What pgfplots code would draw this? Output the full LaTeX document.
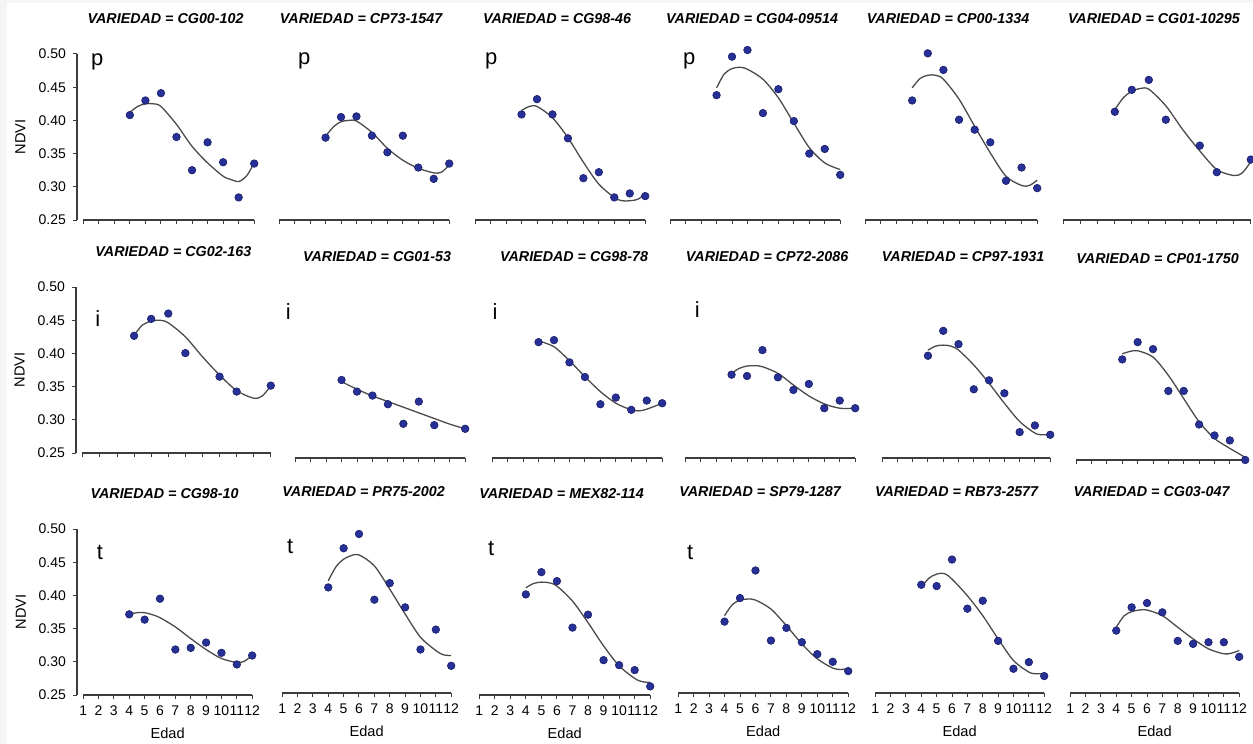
\documentclass[border=0pt]{standalone}
\usepackage{fontspec}
\setmainfont{Liberation Sans}
\usepackage{pgfplots}
\pgfplotsset{compat=1.18}

\definecolor{dotfill}{RGB}{38,48,150}
\definecolor{dotedge}{RGB}{25,30,105}
\definecolor{fitline}{RGB}{75,75,75}
\definecolor{axisgray}{RGB}{60,60,60}
\definecolor{bgedge}{RGB}{243,246,242}

\tikzset{lab/.style={font=\fontsize{11}{13}\selectfont, anchor=center}}

\pgfplotsset{
  panel/.style={
    scale only axis, height=83pt, anchor=south west,
    xmin=0.6, xmax=12, ymin=0.25, ymax=0.5, clip=false,
    axis x line=bottom, axis y line=left,
    axis line style={-, draw=axisgray, line width=0.6pt},
    x axis line style={shorten <=3pt},
    xtick={1,...,12}, ytick={0.25,0.3,0.35,0.4,0.45,0.5},
    tick align=outside, major tick length=2pt,
    tick style={draw=axisgray, line width=0.5pt},
    tick label style={font=\fontsize{7}{8}\selectfont},
    /pgf/number format/assume math mode=true,
    yticklabel style={/pgf/number format/.cd, fixed, fixed zerofill, precision=2},
    title style={font=\fontsize{7.15}{8}\selectfont\bfseries\itshape,
      at={(0.5,1)}, anchor=center, yshift=11.5pt},
  },
  firstcol/.style={ylabel={NDVI},
    every axis y label/.style={at={(axis description cs:#1,0.5)}, rotate=90,
      anchor=center, font=\fontsize{7.3}{8}\selectfont}},
  othercol/.style={axis y line=none, ytick=\empty},
  uprow/.style={xticklabels={}},
  lastrow/.style={xlabel={Edad},
    every axis x label/.style={at={(axis cs:6.5,0.25)}, anchor=center,
      yshift=-19pt, font=\fontsize{7.3}{8}\selectfont}},
  fit/.style={smooth, color=fitline, line width=0.65pt, no markers},
  dots/.style={only marks, mark=*, mark size=1.9pt,
    mark options={fill=dotfill, draw=dotedge, line width=0.3pt}},
}

\begin{document}
\begin{tikzpicture}
\path[use as bounding box] (0,0) rectangle (626.5pt,-372pt);
\fill[white] (0,0) rectangle (626.5pt,-372pt);
\fill[bgedge] (0,0) rectangle (3.5pt,-372pt);
\fill[bgedge] (0,0) rectangle (626.5pt,-1.5pt);

% ---------------- row 1 ----------------
\begin{axis}[panel, firstcol=-0.32, uprow, at={(38.5pt,-110pt)}, width=88.6pt,
  title={VARIEDAD = CG00-102}]
\addplot[fit] coordinates {(4,0.412) (4.5,0.421) (5,0.425) (5.5,0.425) (6,0.421) (7,0.394) (8,0.361) (9,0.336) (10,0.316) (10.5,0.311) (11,0.308) (11.5,0.316) (12,0.336)};
\addplot[dots] coordinates {(4,0.408) (5,0.430) (6,0.441) (7,0.375) (8,0.325) (9,0.367) (10,0.337) (11,0.284) (12,0.335)};
\node[lab] at (axis cs:1.9,0.488) {p};
\end{axis}

\begin{axis}[panel, othercol, uprow, at={(136.5pt,-110pt)}, width=88.1pt,
  title={VARIEDAD = CP73-1547}]
\addplot[fit] coordinates {(4,0.376) (4.5,0.390) (5,0.398) (5.5,0.400) (6,0.399) (7,0.382) (8,0.358) (9,0.340) (10,0.328) (11,0.321) (11.5,0.322) (12,0.333)};
\addplot[dots] coordinates {(4,0.374) (5,0.405) (6,0.406) (7,0.377) (8,0.352) (9,0.377) (10,0.329) (11,0.312) (12,0.335)};
\node[lab] at (axis cs:2.62,0.489) {p};
\end{axis}

\begin{axis}[panel, othercol, uprow, at={(234.5pt,-110pt)}, width=88.1pt,
  title={VARIEDAD = CG98-46}]
\addplot[fit] coordinates {(4,0.415) (4.5,0.421) (5,0.421) (6,0.404) (7,0.374) (8,0.337) (9,0.304) (10,0.284) (10.5,0.279) (11,0.279) (11.5,0.281) (12,0.289)};
\addplot[dots] coordinates {(4,0.409) (5,0.432) (6,0.409) (7,0.373) (8,0.313) (9,0.322) (10,0.284) (11,0.290) (12,0.286)};
\node[lab] at (axis cs:2.04,0.489) {p};
\end{axis}

\begin{axis}[panel, othercol, uprow, at={(332pt,-110pt)}, width=88.1pt,
  title={VARIEDAD = CG04-09514}]
\addplot[fit] coordinates {(4,0.449) (4.5,0.470) (5,0.478) (5.5,0.480) (6,0.477) (7,0.462) (8,0.434) (9,0.396) (10,0.359) (11,0.336) (12,0.326)};
\addplot[dots] coordinates {(4,0.438) (5,0.496) (6,0.506) (7,0.411) (8,0.447) (9,0.399) (10,0.350) (11,0.357) (12,0.318)};
\node[lab] at (axis cs:2.23,0.489) {p};
\end{axis}

\begin{axis}[panel, othercol, uprow, at={(429.5pt,-110pt)}, width=89.1pt,
  title={VARIEDAD = CP00-1334}]
\addplot[fit] coordinates {(4,0.449) (4.5,0.463) (5,0.468) (5.5,0.468) (6,0.462) (7,0.432) (8,0.391) (9,0.351) (10,0.316) (11,0.302) (11.5,0.302) (12,0.310)};
\addplot[dots] coordinates {(4,0.430) (5,0.501) (6,0.476) (7,0.401) (8,0.386) (9,0.367) (10,0.309) (11,0.329) (12,0.298)};
\end{axis}

\begin{axis}[panel, othercol, uprow, at={(528.5pt,-110pt)}, width=96.9pt,
  title={VARIEDAD = CG01-10295}]
\addplot[fit] coordinates {(4,0.416) (4.5,0.434) (5,0.444) (5.5,0.448) (6,0.447) (7,0.422) (8,0.386) (9,0.354) (10,0.326) (11,0.317) (11.5,0.321) (12,0.338)};
\addplot[dots] coordinates {(4,0.413) (5,0.446) (6,0.461) (7,0.401) (9,0.362) (10,0.322) (12,0.341)};
\end{axis}

% ---------------- row 2 ----------------
\begin{axis}[panel, firstcol=-0.29, uprow, at={(38pt,-226.5pt)}, width=97.4pt,
  title={VARIEDAD = CG02-163}]
\addplot[fit] coordinates {(4,0.4275) (4.5,0.443) (5,0.4485) (5.5,0.450) (6,0.446) (7,0.425) (8,0.395) (9,0.3675) (10,0.344) (11,0.3325) (11.5,0.336) (12,0.351)};
\addplot[dots] coordinates {(4,0.4265) (5,0.452) (6,0.460) (7,0.4005) (9,0.365) (10,0.3425) (12,0.3515)};
\node[lab] at (axis cs:1.88,0.453) {i};
\end{axis}

\begin{axis}[panel, othercol, uprow, at={(144.5pt,-229pt)}, width=88.1pt,
  title={VARIEDAD = CG01-53}]
\addplot[fit] coordinates {(4,0.365) (5,0.3535) (6,0.3435) (7,0.335) (8,0.3265) (9,0.318) (10,0.3095) (11,0.301) (12,0.294)};
\addplot[dots] coordinates {(4,0.3675) (5,0.350) (6,0.344) (7,0.331) (8,0.3015) (9,0.335) (10,0.2995) (12,0.294)};
\node[lab] at (axis cs:0.55,0.47) {i};
\end{axis}

\begin{axis}[panel, othercol, uprow, at={(243pt,-229pt)}, width=88.1pt,
  title={VARIEDAD = CG98-78}]
\addplot[fit] coordinates {(4,0.4265) (5,0.4175) (6,0.3965) (7,0.3725) (8,0.350) (9,0.3325) (10,0.3225) (10.5,0.321) (11,0.3235) (12,0.3325)};
\addplot[dots] coordinates {(4,0.4245) (5,0.4275) (6,0.394) (7,0.372) (8,0.331) (9,0.341) (10,0.3225) (11,0.3365) (12,0.3325)};
\node[lab] at (axis cs:1.19,0.47) {i};
\end{axis}

\begin{axis}[panel, othercol, uprow, at={(339.5pt,-229pt)}, width=88.1pt,
  title={VARIEDAD = CP72-2086}]
\addplot[fit] coordinates {(4,0.3775) (4.5,0.385) (5,0.3885) (5.5,0.389) (6,0.3875) (7,0.3775) (8,0.360) (9,0.3435) (10,0.3315) (11,0.325) (12,0.325)};
\addplot[dots] coordinates {(4,0.3755) (5,0.3735) (6,0.4125) (7,0.3715) (8,0.3525) (9,0.3615) (10,0.325) (11,0.3365) (12,0.325)};
\node[lab] at (axis cs:1.78,0.473) {i};
\end{axis}

\begin{axis}[panel, othercol, uprow, at={(438pt,-229pt)}, width=87.1pt,
  title={VARIEDAD = CP97-1931}]
\addplot[fit] coordinates {(4,0.4125) (4.5,0.4185) (5,0.420) (5.5,0.4185) (6,0.4125) (7,0.390) (8,0.3625) (9,0.3325) (10,0.305) (11,0.2875) (11.5,0.285) (12,0.286)};
\addplot[dots] coordinates {(4,0.404) (5,0.4415) (6,0.4215) (7,0.3535) (8,0.367) (9,0.3475) (10,0.289) (11,0.299) (12,0.285)};
\end{axis}

\begin{axis}[panel, othercol, uprow, at={(535pt,-230pt)}, width=87.6pt,
  title={VARIEDAD = CP01-1750}]
\addplot[fit] coordinates {(4,0.410) (4.5,0.4135) (5,0.4145) (6,0.405) (7,0.3775) (8,0.3425) (9,0.3075) (10,0.2825) (11,0.2675) (12,0.254)};
\addplot[dots] coordinates {(4,0.4015) (5,0.4275) (6,0.417) (7,0.354) (8,0.354) (9,0.3035) (10,0.287) (11,0.2795) (12,0.250)};
\end{axis}

% ---------------- row 3 ----------------
\begin{axis}[panel, firstcol=-0.32, lastrow, at={(38.5pt,-347.5pt)}, width=87.6pt,
  title={VARIEDAD = CG98-10}]
\addplot[fit] coordinates {(4,0.3715) (4.5,0.374) (5,0.374) (5.5,0.371) (6,0.3665) (7,0.3525) (8,0.335) (9,0.3185) (10,0.305) (11,0.299) (11.5,0.301) (12,0.310)};
\addplot[dots] coordinates {(4,0.3715) (5,0.3635) (6,0.395) (7,0.3185) (8,0.321) (9,0.329) (10,0.3135) (11,0.296) (12,0.3095)};
\node[lab] at (axis cs:2.1,0.465) {t};
\end{axis}

\begin{axis}[panel, othercol, lastrow, at={(138pt,-346.5pt)}, width=87.6pt,
  title={VARIEDAD = PR75-2002}]
\addplot[fit] coordinates {(4,0.419) (4.5,0.440) (5,0.4515) (5.5,0.457) (6,0.458) (7,0.4415) (8,0.4065) (9,0.369) (10,0.334) (11,0.314) (11.5,0.3075) (12,0.3065)};
\addplot[dots] coordinates {(4,0.409) (5,0.468) (6,0.4895) (7,0.3905) (8,0.4155) (9,0.379) (10,0.3155) (11,0.3455) (12,0.291)};
\node[lab] at (axis cs:1.52,0.47) {t};
\end{axis}

\begin{axis}[panel, othercol, lastrow, at={(236.5pt,-347.5pt)}, width=88.6pt,
  title={VARIEDAD = MEX82-114}]
\addplot[fit] coordinates {(4,0.4115) (4.5,0.418) (5,0.420) (5.5,0.419) (6,0.414) (7,0.3915) (8,0.359) (9,0.324) (10,0.294) (11,0.275) (11.5,0.270) (12,0.269)};
\addplot[dots] coordinates {(4,0.4015) (5,0.435) (6,0.4215) (7,0.3515) (8,0.371) (9,0.3025) (10,0.295) (11,0.2875) (12,0.263)};
\node[lab] at (axis cs:1.77,0.47) {t};
\end{axis}

\begin{axis}[panel, othercol, lastrow, at={(336pt,-346.5pt)}, width=88.1pt,
  title={VARIEDAD = SP79-1287}]
\addplot[fit] coordinates {(4,0.3665) (4.5,0.383) (5,0.390) (5.5,0.3915) (6,0.390) (7,0.3765) (8,0.3515) (9,0.324) (10,0.3015) (11,0.2875) (11.5,0.2855) (12,0.2865)};
\addplot[dots] coordinates {(4,0.3575) (5,0.393) (6,0.4345) (7,0.329) (8,0.348) (9,0.3265) (10,0.3085) (11,0.297) (12,0.283)};
\node[lab] at (axis cs:1.78,0.462) {t};
\end{axis}

\begin{axis}[panel, othercol, lastrow, at={(434.5pt,-346.5pt)}, width=87.6pt,
  title={VARIEDAD = RB73-2577}]
\addplot[fit] coordinates {(4,0.409) (4.5,0.423) (5,0.429) (5.5,0.430) (6,0.4215) (7,0.3965) (8,0.3665) (9,0.3315) (10,0.299) (11,0.2815) (11.5,0.279) (12,0.279)};
\addplot[dots] coordinates {(4,0.413) (5,0.411) (6,0.451) (7,0.377) (8,0.389) (9,0.3285) (10,0.2865) (11,0.2965) (12,0.2755)};
\end{axis}

\begin{axis}[panel, othercol, lastrow, at={(532pt,-346.5pt)}, width=87.6pt,
  title={VARIEDAD = CG03-047}]
\addplot[fit] coordinates {(4,0.349) (4.5,0.366) (5,0.3725) (5.5,0.375) (6,0.375) (7,0.3665) (8,0.349) (9,0.3315) (10,0.3165) (11,0.309) (11.5,0.310) (12,0.314)};
\addplot[dots] coordinates {(4,0.344) (5,0.379) (6,0.3855) (7,0.3715) (8,0.3285) (9,0.324) (10,0.3265) (11,0.3265) (12,0.3045)};
\end{axis}
\end{tikzpicture}
\end{document}
